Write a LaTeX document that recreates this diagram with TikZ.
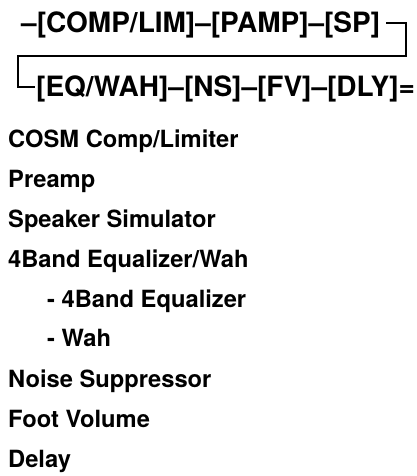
\documentclass[tikz,border=0pt]{standalone}
\usepackage{fontspec}
\setmainfont{TeX Gyre Heros}
\begin{document}
\begin{tikzpicture}[x=1pt,y=-1pt,
  chain/.style={anchor=base west, inner sep=0pt, font=\fontsize{28}{30}\bfseries\selectfont},
  item/.style={anchor=base west, inner sep=0pt, font=\fontsize{23.7}{26}\bfseries\selectfont},
  wire/.style={line width=2.6pt}]
\useasboundingbox (0,0) rectangle (417,476);
% signal chain
\node[chain] (row1) at (21,33) {–[COMP/LIM]–[PAMP]–[SP]};
\node[chain] (row2) at (36,97) {[EQ/WAH]–[NS]–[FV]–[DLY]=};
\coordinate (turnR) at (406,56);
\coordinate (turnL) at (18,56);
\draw[wire] ([shift={(6,-10)}]row1.base east) -| (turnR) -- (turnL) |- ([shift={(-1,-10)}]row2.base west);
% legend
\node[item] (comp) at (8,147) {COSM Comp/Limiter};
\node[item] (pamp) at (8,187) {Preamp};
\node[item] (sp) at (8,227) {Speaker Simulator};
\node[item] (eqwah) at (8,267) {4Band Equalizer/Wah};
\node[item] (eq) at (47,307) {- 4Band Equalizer};
\node[item] (wah) at (47,346) {- Wah};
\node[item] (ns) at (8,387) {Noise Suppressor};
\node[item] (fv) at (8,427) {Foot Volume};
\node[item] (dly) at (8,467) {Delay};
\end{tikzpicture}
\end{document}
